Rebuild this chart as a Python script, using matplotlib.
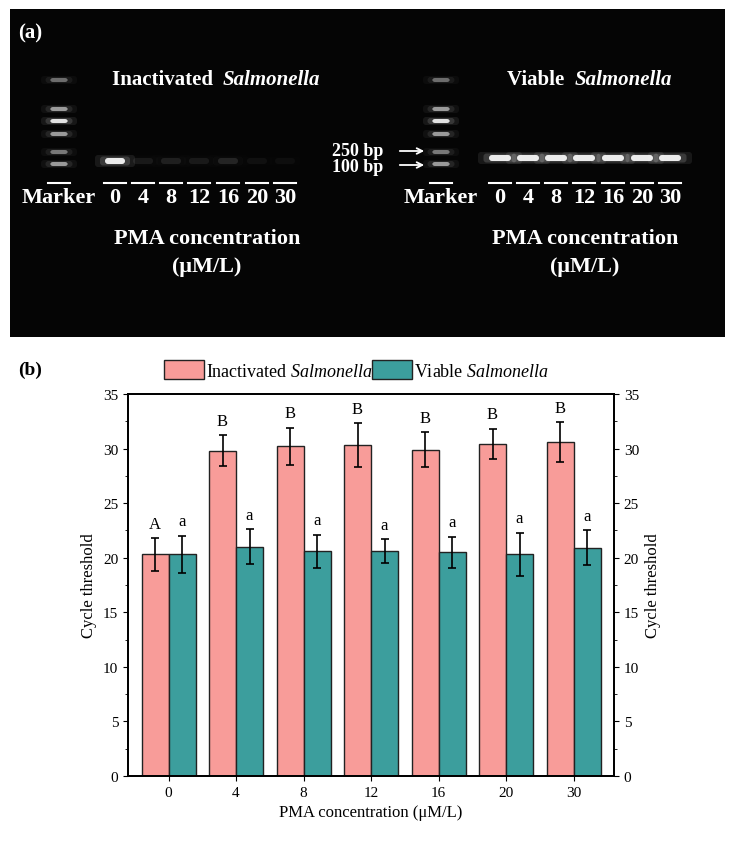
import matplotlib
matplotlib.use("Agg")
import matplotlib.pyplot as plt
import numpy as np
from matplotlib.patches import FancyBboxPatch

plt.rcParams["font.family"] = "Liberation Serif"
plt.rcParams["mathtext.fontset"] = "custom"
plt.rcParams["mathtext.rm"] = "Liberation Serif"
plt.rcParams["mathtext.it"] = "Liberation Serif:italic"

categories = ["0", "4", "8", "12", "16", "20", "30"]
inact = [20.3, 29.8, 30.2, 30.3, 29.9, 30.4, 30.6]
inact_err = [1.5, 1.4, 1.7, 2.0, 1.6, 1.4, 1.8]
viable = [20.3, 21.0, 20.6, 20.6, 20.5, 20.3, 20.9]
viable_err = [1.7, 1.6, 1.5, 1.1, 1.4, 2.0, 1.6]
inact_letters = ["A", "B", "B", "B", "B", "B", "B"]
viable_letters = ["a"] * 7
gel_inact_intensity = [1.0, 0.08, 0.1, 0.08, 0.12, 0.05, 0.04]
gel_viable_intensity = [1.0] * 7

fig = plt.figure(figsize=(7.33, 8.45), dpi=100)

# ---- panel (a): gel ----
g = fig.add_axes([10/733, 1-338/845, 715/733, 328/845])
g.set_xlim(10, 725); g.set_ylim(338, 10)
g.set_facecolor("#050505"); g.set_xticks([]); g.set_yticks([])
for s in g.spines.values(): s.set_visible(False)

def band(x, y, w, h, inten):
    for k, a in [(2.0, 0.08), (1.5, 0.15), (1.0, 0.9)]:
        g.add_patch(FancyBboxPatch((x-w*k/2, y-h*k/2), w*k, h*k,
                    boxstyle="round,pad=0,rounding_size=3",
                    fc="white", ec="none", alpha=a*inten))

marker_y = [81, 110, 122, 135, 153, 165]
marker_i = [0.4, 0.6, 0.95, 0.6, 0.45, 0.6]
for mx in [59, 441]:
    for yy, ii in zip(marker_y, marker_i):
        band(mx, yy, 18, 4, ii)
left_lanes = [115, 143, 171, 199, 228, 257, 285]
right_lanes = [500, 528, 556, 584, 613, 642, 670]
for x, i in zip(left_lanes, gel_inact_intensity):
    band(x, 162, 20, 6, i)
for x, i in zip(right_lanes, gel_viable_intensity):
    band(x, 159, 22, 6, i)

tk = dict(color="white", fontweight="bold", ha="center", va="center")
for lanes, mx in [(left_lanes, 59), (right_lanes, 441)]:
    g.plot([mx-11, mx+11], [184, 184], color="white", lw=1.5)
    g.text(mx, 198, "Marker", fontsize=16, **tk)
    for x, c in zip(lanes, categories):
        g.plot([x-11, x+11], [184, 184], color="white", lw=1.5)
        g.text(x, 198, c, fontsize=16, **tk)
g.text(18, 33, "(a)", fontsize=15, color="white", fontweight="bold", va="center")
g.text(223, 80, "Inactivated  ", fontsize=15, color="white", fontweight="bold", ha="right", va="center")
g.text(223, 80, "Salmonella", fontsize=15, color="white", fontweight="bold", style="italic", ha="left", va="center")
g.text(575, 80, "Viable  ", fontsize=15, color="white", fontweight="bold", ha="right", va="center")
g.text(575, 80, "Salmonella", fontsize=15, color="white", fontweight="bold", style="italic", ha="left", va="center")
for cx in [207, 585]:
    g.text(cx, 239, "PMA concentration", fontsize=16, **tk)
    g.text(cx, 267, "(μM/L)", fontsize=16, **tk)
g.text(358, 151, "250 bp", fontsize=13, **tk)
g.text(358, 168, "100 bp", fontsize=13, **tk)
for yy in [152, 166]:
    g.annotate("", xy=(427, yy), xytext=(397, yy),
               arrowprops=dict(arrowstyle="->", color="white", lw=1.3))

# ---- panel (b): bars ----
ax = fig.add_axes([128/733, 1-777/845, 486/733, 382/845])
x = np.arange(len(categories))
w = 0.4
ax.bar(x-w/2, inact, w, color="#F89C99", edgecolor="#222", lw=1,
       yerr=inact_err, capsize=3, error_kw=dict(lw=1.2, capthick=1.2),
       label="Inactivated $\\it{Salmonella}$")
ax.bar(x+w/2, viable, w, color="#3C9E9D", edgecolor="#222", lw=1,
       yerr=viable_err, capsize=3, error_kw=dict(lw=1.2, capthick=1.2),
       label="Viable $\\it{Salmonella}$")
for i in range(len(x)):
    ax.text(x[i]-w/2, inact[i]+inact_err[i]+0.6, inact_letters[i], ha="center", va="bottom", fontsize=12)
    ax.text(x[i]+w/2, viable[i]+viable_err[i]+0.6, viable_letters[i], ha="center", va="bottom", fontsize=12)
ax.set_ylim(0, 35)
ax.set_xlim(-0.6, 6.6)
ax.set_yticks(range(0, 36, 5))
ax.set_xticks(x, categories)
ax.set_ylabel("Cycle threshold", fontsize=12)
ax.set_xlabel("PMA concentration (μM/L)", fontsize=12)
ax.tick_params(labelsize=11, direction="out")
ax.yaxis.set_minor_locator(matplotlib.ticker.MultipleLocator(2.5))
ax2 = ax.twinx()
ax2.set_ylim(0, 35); ax2.set_yticks(range(0, 36, 5))
ax2.yaxis.set_minor_locator(matplotlib.ticker.MultipleLocator(2.5))
ax2.set_ylabel("Cycle threshold", fontsize=12)
ax2.tick_params(labelsize=11)
for a in (ax, ax2):
    for s in a.spines.values(): s.set_linewidth(1.3)
ax.legend(loc="lower center", bbox_to_anchor=(0.47, 0.995), ncol=2, frameon=False,
          fontsize=13, handlelength=2.2, handleheight=1.3, columnspacing=0.0, handletextpad=0.1)

fig.text(18/733, 1-370/845, "(b)", fontsize=14, fontweight="bold", va="center")
fig.savefig("out.png", dpi=100)
